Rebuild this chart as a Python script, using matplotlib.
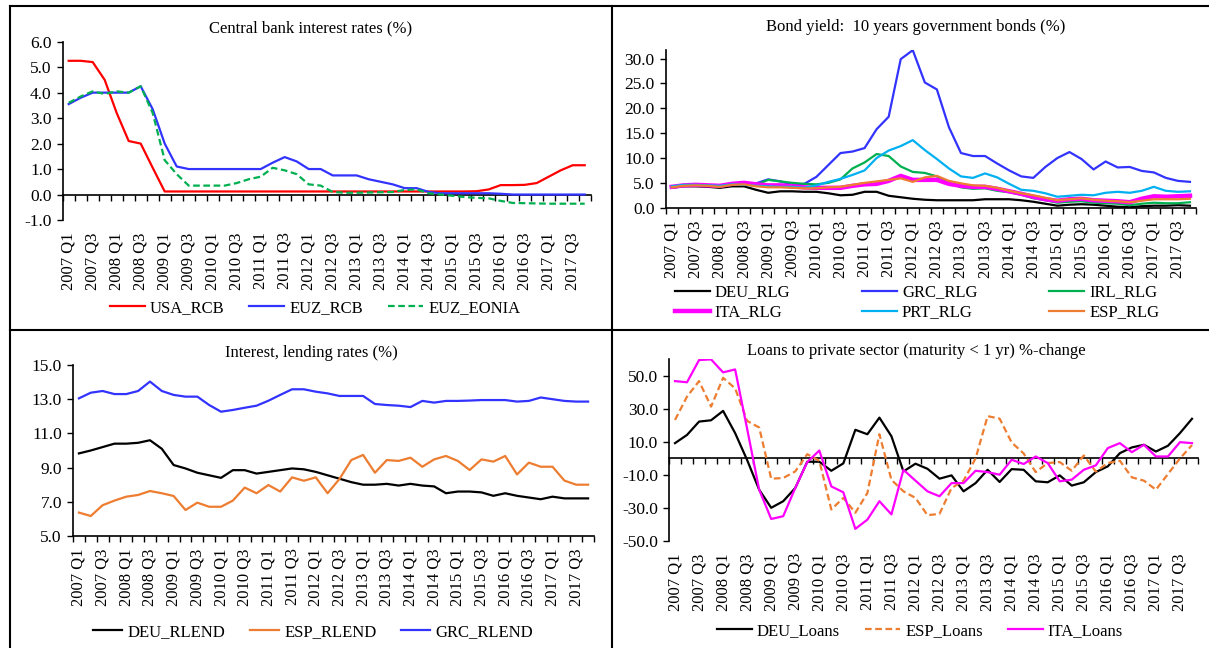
import numpy as np
import matplotlib
matplotlib.use("Agg")
import matplotlib.pyplot as plt
from matplotlib.lines import Line2D
from matplotlib.ticker import FormatStrFormatter

plt.rcParams['font.family'] = ['Liberation Serif', 'DejaVu Serif']
plt.rcParams['axes.unicode_minus'] = False

# --- DATA (quarterly, 2007 Q1 - 2017 Q4) ---
quarters = [f"{y} Q{q}" for y in range(2007, 2018) for q in range(1, 5)]
tick_labels = quarters[::2]

# Central bank interest rates (%)
usa_rcb = [5.25, 5.25, 5.2, 4.5, 3.2, 2.1, 2.0, 1.05, 0.12, 0.12, 0.12, 0.12,
           0.12, 0.12, 0.12, 0.12, 0.12, 0.12, 0.12, 0.12, 0.12, 0.12, 0.12, 0.12,
           0.12, 0.12, 0.12, 0.12, 0.12, 0.12, 0.12, 0.12, 0.12, 0.12, 0.13, 0.2,
           0.37, 0.37, 0.38, 0.45, 0.7, 0.95, 1.15, 1.15]
euz_rcb = [3.55, 3.8, 4.0, 4.0, 4.0, 4.0, 4.25, 3.35, 2.0, 1.1, 1.0, 1.0,
           1.0, 1.0, 1.0, 1.0, 1.0, 1.25, 1.47, 1.3, 1.0, 1.0, 0.75, 0.75,
           0.75, 0.6, 0.5, 0.4, 0.25, 0.25, 0.1, 0.05, 0.05, 0.05, 0.05, 0.05,
           0.03, 0.0, 0.0, 0.0, 0.0, 0.0, 0.0, 0.0]
euz_eonia = [3.6, 3.85, 4.05, 3.95, 4.05, 4.0, 4.25, 3.2, 1.35, 0.8, 0.35, 0.35,
             0.35, 0.35, 0.45, 0.6, 0.7, 1.05, 0.95, 0.8, 0.4, 0.35, 0.1, 0.07,
             0.07, 0.08, 0.09, 0.1, 0.18, 0.2, 0.05, 0.0, -0.05, -0.1, -0.13, -0.15,
             -0.25, -0.33, -0.34, -0.35, -0.36, -0.36, -0.36, -0.36]

# Bond yield: 10 years government bonds (%)
deu_rlg = [4.0, 4.3, 4.3, 4.2, 4.0, 4.3, 4.3, 3.6, 3.0, 3.3, 3.3, 3.2,
           3.2, 2.9, 2.5, 2.6, 3.2, 3.2, 2.4, 2.1, 1.8, 1.6, 1.5, 1.5,
           1.5, 1.5, 1.7, 1.7, 1.7, 1.5, 1.2, 0.8, 0.4, 0.6, 0.7, 0.6,
           0.4, 0.2, 0.1, 0.3, 0.4, 0.4, 0.5, 0.4]
grc_rlg = [4.3, 4.5, 4.6, 4.5, 4.4, 4.8, 4.9, 4.9, 5.7, 5.3, 4.6, 4.8,
           6.2, 8.6, 11.0, 11.3, 12.0, 15.8, 18.3, 29.9, 31.7, 25.2, 23.8, 16.2,
           11.0, 10.4, 10.4, 8.9, 7.5, 6.3, 6.0, 8.2, 10.0, 11.2, 9.8, 7.7,
           9.3, 8.1, 8.2, 7.4, 7.1, 6.0, 5.4, 5.2]
irl_rlg = [4.2, 4.5, 4.6, 4.5, 4.4, 4.7, 4.8, 4.6, 5.6, 5.3, 5.0, 4.8,
           4.7, 5.0, 5.7, 7.9, 9.1, 10.8, 10.4, 8.3, 7.2, 7.0, 6.3, 5.0,
           4.1, 3.8, 3.9, 3.4, 3.1, 2.6, 1.9, 1.5, 1.0, 1.2, 1.3, 1.0,
           0.9, 0.8, 0.5, 0.8, 1.0, 0.9, 0.9, 1.1]
ita_rlg = [4.2, 4.5, 4.6, 4.5, 4.4, 4.8, 5.0, 4.7, 4.5, 4.5, 4.3, 4.1,
           4.0, 4.0, 4.0, 4.4, 4.7, 4.8, 5.4, 6.4, 5.6, 5.6, 5.6, 4.8,
           4.4, 4.2, 4.2, 3.8, 3.3, 2.8, 2.2, 1.7, 1.4, 1.7, 1.8, 1.5,
           1.4, 1.3, 1.1, 1.8, 2.3, 2.2, 2.3, 2.4]
prt_rlg = [4.3, 4.6, 4.6, 4.5, 4.4, 4.7, 4.6, 4.4, 4.3, 4.2, 4.2, 4.0,
           4.5, 5.2, 5.8, 6.6, 7.5, 10.0, 11.5, 12.4, 13.6, 11.6, 9.8, 7.9,
           6.3, 6.0, 6.9, 6.1, 4.8, 3.6, 3.4, 2.9, 2.2, 2.4, 2.6, 2.5,
           3.0, 3.2, 3.0, 3.4, 4.2, 3.4, 3.2, 3.3]
esp_rlg = [4.1, 4.4, 4.5, 4.4, 4.2, 4.6, 4.7, 4.3, 4.1, 4.1, 4.0, 3.9,
           3.9, 4.1, 4.2, 4.6, 5.0, 5.3, 5.6, 5.9, 5.2, 6.1, 6.4, 5.4,
           4.9, 4.5, 4.4, 4.0, 3.4, 2.9, 2.5, 2.0, 1.5, 1.7, 1.9, 1.6,
           1.4, 1.3, 1.1, 1.4, 1.7, 1.7, 1.7, 1.8]

# Interest, lending rates (%)
deu_rlend = [9.83, 10.0, 10.2, 10.4, 10.4, 10.45, 10.6, 10.1, 9.15, 8.95, 8.7, 8.55,
             8.4, 8.85, 8.85, 8.65, 8.75, 8.85, 8.95, 8.9, 8.75, 8.55, 8.35, 8.15,
             8.0, 8.0, 8.05, 7.95, 8.05, 7.95, 7.9, 7.5, 7.6, 7.6, 7.55, 7.35,
             7.5, 7.35, 7.25, 7.15, 7.3, 7.2, 7.2, 7.2]
esp_rlend = [6.37, 6.17, 6.8, 7.07, 7.3, 7.4, 7.63, 7.5, 7.34, 6.52, 6.95, 6.71,
             6.71, 7.07, 7.83, 7.5, 7.98, 7.6, 8.43, 8.23, 8.43, 7.5, 8.33, 9.44,
             9.74, 8.7, 9.44, 9.39, 9.58, 9.05, 9.48, 9.68, 9.39, 8.86, 9.48, 9.35,
             9.68, 8.6, 9.29, 9.05, 9.05, 8.24, 8.0, 8.0]
grc_rlend = [13.05, 13.38, 13.48, 13.3, 13.3, 13.48, 14.03, 13.48, 13.25, 13.15, 13.15, 12.66,
             12.27, 12.37, 12.5, 12.62, 12.91, 13.25, 13.58, 13.58, 13.44, 13.34, 13.19, 13.19,
             13.19, 12.72, 12.66, 12.62, 12.54, 12.9, 12.8, 12.9, 12.9, 12.92, 12.95, 12.95,
             12.95, 12.86, 12.9, 13.1, 13.0, 12.9, 12.86, 12.86]

# Loans to private sector (maturity < 1 yr) %-change
deu_loans = [9.3, 14.3, 22.4, 23.2, 28.9, 15.4, -1.0, -19.0, -30.0, -26.0, -18.0, -2.0,
             -2.0, -7.5, -3.0, 17.4, 14.7, 24.8, 13.5, -7.9, -3.2, -6.3, -12.3, -10.3,
             -20.0, -15.0, -6.9, -14.3, -6.5, -6.9, -13.9, -14.5, -10.3, -16.5, -14.5, -8.3,
             -4.8, 3.2, 6.7, 8.3, 4.2, 7.7, 15.4, 24.1]
esp_loans = [23.4, 37.6, 47.0, 31.5, 49.0, 42.6, 22.8, 18.8, -12.3, -11.9, -7.9, 2.6,
             -1.4, -31.0, -24.0, -33.0, -21.0, 14.7, -13.0, -20.0, -24.0, -34.5, -33.7, -18.0,
             -13.5, 0.0, 25.7, 24.2, 9.7, 3.0, -8.3, -2.8, -2.2, -7.5, 1.8, -8.0,
             -2.8, -1.4, -11.5, -13.5, -19.0, -9.5, 0.0, 8.1]
ita_loans = [47.0, 46.3, 59.8, 60.2, 52.3, 54.1, 18.0, -19.0, -36.8, -35.1, -18.0, -2.2,
             4.8, -17.0, -20.6, -42.8, -37.2, -26.0, -34.0, -6.9, -13.5, -20.0, -23.0, -15.0,
             -15.0, -7.5, -8.3, -9.9, -0.8, -3.4, 1.2, -2.8, -13.9, -12.9, -6.9, -4.2,
             6.3, 9.3, 3.8, 8.3, 1.2, 1.2, 9.9, 9.3]

# --- COLOURS ---
RED = '#FF0000'
BLUE = '#3333FF'
GREEN = '#00B050'
MAGENTA = '#FF00FF'
CYAN = '#00B0F0'
ORANGE = '#ED7D31'
DASH = (0, (3, 1.6))

W, H = 1209, 648
fig = plt.figure(figsize=(W / 100, H / 100), dpi=100)
x = np.arange(len(quarters))


def px_axes(x0, x1, ytop, ybot):
    # place an axes using pixel coords measured from the top-left corner
    return fig.add_axes([x0 / W, 1 - ybot / H, (x1 - x0) / W, (ybot - ytop) / H])


def style(ax, ymin, ymax, yticks, cross, label_pad):
    ax.set_xlim(-0.5, len(quarters) - 0.5)
    ax.set_ylim(ymin, ymax)
    ax.set_yticks(yticks)
    ax.yaxis.set_major_formatter(FormatStrFormatter('%.1f'))
    ax.tick_params(axis='y', labelsize=12.5, length=4, width=1, direction='out', pad=4)
    for s in ['top', 'right', 'bottom']:
        ax.spines[s].set_visible(False)
    ax.spines['left'].set_linewidth(1.2)
    ax.set_xticks(x[::2], tick_labels, rotation=90)
    ax.tick_params(axis='x', labelsize=12, length=0, pad=label_pad)
    # category axis line with a tick between every quarter
    frac = (cross - ymin) / (ymax - ymin)
    sec = ax.secondary_xaxis(frac)
    sec.set_xticks(np.arange(-0.5, len(quarters), 1.0))
    sec.set_xticklabels([])
    sec.tick_params(length=4, width=1, direction='out')
    sec.spines['bottom'].set_linewidth(1.2)


def legend(ax, handles, ncol, cx, cy, colsp, hlen=2.1):
    ax.legend(handles=handles, ncol=ncol, loc='center',
              bbox_to_anchor=(cx / W, 1 - cy / H), bbox_transform=fig.transFigure,
              frameon=False, fontsize=12, handlelength=hlen, handletextpad=0.3,
              columnspacing=colsp, borderaxespad=0, borderpad=0, labelspacing=0.25)


def title(cx, cy, text):
    fig.text(cx / W, 1 - cy / H, text, ha='center', va='center', fontsize=12)


# 1. CENTRAL BANK RATES
ax1 = px_axes(62.7, 590.7, 41.7, 220)
h1 = ax1.plot(x, usa_rcb, color=RED, lw=1.6, label='USA_RCB')
h2 = ax1.plot(x, euz_rcb, color=BLUE, lw=1.6, label='EUZ_RCB')
h3 = ax1.plot(x, euz_eonia, color=GREEN, lw=1.6, ls=DASH, label='EUZ_EONIA')
style(ax1, -1, 6, np.arange(-1, 7, 1.0), 0, 9)
title(311, 28, 'Central bank interest rates (%)')
legend(ax1, h1 + h2 + h3, 3, 315, 308, 1.5)

# 2. BOND YIELDS
ax2 = px_axes(665.7, 1196, 49.7, 207.7)
b_deu = ax2.plot(x, deu_rlg, color='black', lw=1.6, label='DEU_RLG')
b_grc = ax2.plot(x, grc_rlg, color=BLUE, lw=1.6, label='GRC_RLG')
b_irl = ax2.plot(x, irl_rlg, color=GREEN, lw=1.6, label='IRL_RLG')
b_ita = ax2.plot(x, ita_rlg, color=MAGENTA, lw=3.2, label='ITA_RLG')
b_prt = ax2.plot(x, prt_rlg, color=CYAN, lw=1.6, label='PRT_RLG')
b_esp = ax2.plot(x, esp_rlg, color=ORANGE, lw=1.6, label='ESP_RLG')
style(ax2, 0, 31.8, np.arange(0, 31, 5.0), 0, 9)
title(916, 27, 'Bond yield:  10 years government bonds (%)')
# column-major order so the rows read DEU GRC IRL / ITA PRT ESP
legend(ax2, b_deu + b_ita + b_grc + b_prt + b_irl + b_esp, 3, 917, 302.5, 4.3)

# 3. LENDING RATES
ax3 = px_axes(73, 594, 365, 536)
l1 = ax3.plot(x, deu_rlend, color='black', lw=1.6, label='DEU_RLEND')
l2 = ax3.plot(x, esp_rlend, color=ORANGE, lw=1.6, label='ESP_RLEND')
l3 = ax3.plot(x, grc_rlend, color=BLUE, lw=1.6, label='GRC_RLEND')
style(ax3, 5, 15, np.arange(5, 16, 2.0), 5, 9)
title(311, 353, 'Interest, lending rates (%)')
legend(ax3, l1 + l2 + l3, 3, 313, 632, 1.5, hlen=1.75)

# 4. LOANS
ax4 = px_axes(669, 1198, 358.9, 540.7)
k1 = ax4.plot(x, deu_loans, color='black', lw=1.6, label='DEU_Loans')
k2 = ax4.plot(x, esp_loans, color=ORANGE, lw=1.6, ls=DASH, label='ESP_Loans')
k3 = ax4.plot(x, ita_loans, color=MAGENTA, lw=1.6, label='ITA_Loans')
style(ax4, -50, 60.5, np.arange(-50, 51, 20.0), 0, 9)
title(916, 351, 'Loans to private sector (maturity < 1 yr) %-change')
legend(ax4, k1 + k2 + k3, 3, 920, 631, 1.5)

# PANEL FRAMES
frame = [((10, 6), (1209, 6)), ((10, 330), (1209, 330)),
         ((10, 6), (10, 648)), ((612, 6), (612, 648))]
for (xa, ya), (xb, yb) in frame:
    fig.add_artist(Line2D([xa / W, xb / W], [1 - ya / H, 1 - yb / H],
                          transform=fig.transFigure, color='black', lw=1.5))

fig.savefig('out.png', dpi=100, facecolor='white')
